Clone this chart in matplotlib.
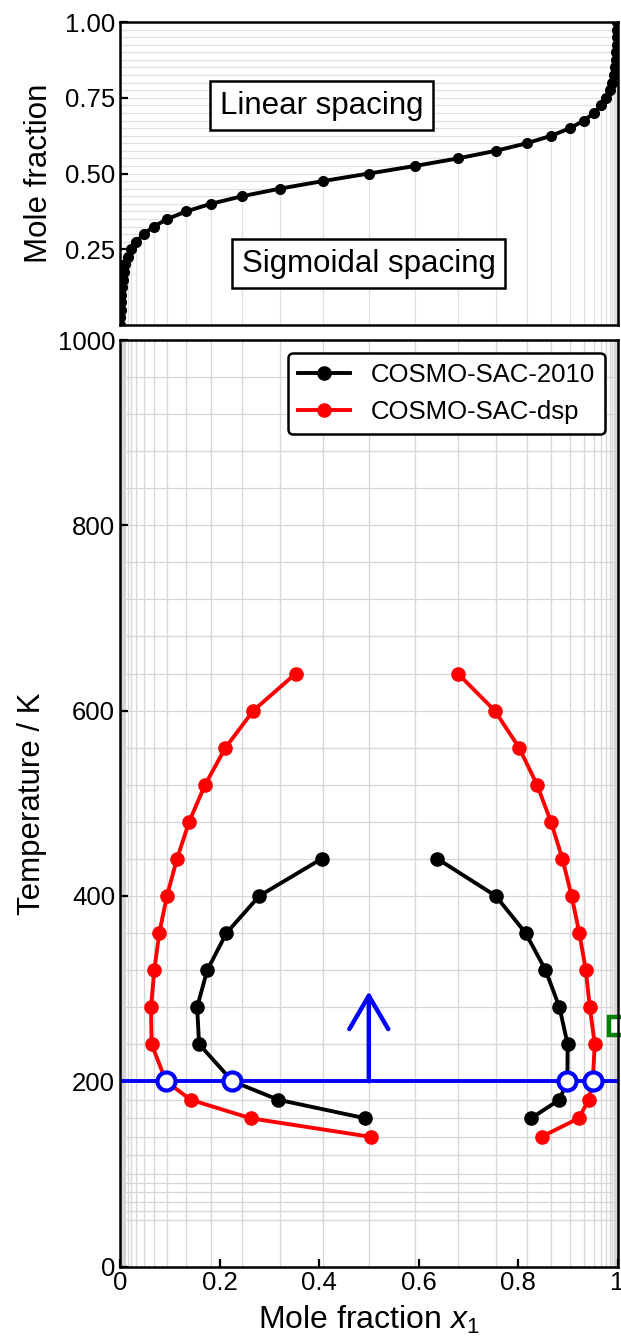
import matplotlib
matplotlib.use("Agg")
import matplotlib.pyplot as plt

plt.rcParams["font.family"] = ["Liberation Sans", "DejaVu Sans"]
plt.rcParams["mathtext.fontset"] = "custom"
plt.rcParams["mathtext.rm"] = "Liberation Sans"
plt.rcParams["mathtext.it"] = "Liberation Sans:italic"

# Sigmoidal grid (x) against the linear grid (y) for the top panel
sig_x = [0.0006, 0.0008, 0.0012, 0.0017, 0.0025, 0.0036, 0.0052, 0.0076,
         0.0110, 0.0159, 0.0230, 0.0331, 0.0474, 0.0676, 0.0953, 0.1330,
         0.1824, 0.2451, 0.3208, 0.4073, 0.5000, 0.5927, 0.6792, 0.7549,
         0.8176, 0.8670, 0.9047, 0.9324, 0.9526, 0.9669, 0.9770, 0.9841,
         0.9890, 0.9924, 0.9948, 0.9964, 0.9975, 0.9983, 0.9988, 0.9992,
         0.9994]
lin_y = [0.000, 0.025, 0.050, 0.075, 0.100, 0.125, 0.150, 0.175, 0.200,
         0.225, 0.250, 0.275, 0.300, 0.325, 0.350, 0.375, 0.400, 0.425,
         0.450, 0.475, 0.500, 0.525, 0.550, 0.575, 0.600, 0.625, 0.650,
         0.675, 0.700, 0.725, 0.750, 0.775, 0.800, 0.825, 0.850, 0.875,
         0.900, 0.925, 0.950, 0.975, 1.000]

# Temperature grid used for the horizontal lines of the bottom panel
temp_grid = [50, 60, 70, 80, 90, 100, 120, 140, 160, 180, 200, 240, 280,
             320, 360, 400, 440, 480, 520, 560, 600, 640, 680, 720, 760,
             800, 840, 880, 920, 960, 1000]

# COSMO-SAC-2010 (black), two branches
t_2010 = [160, 180, 200, 240, 280, 320, 360, 400, 440]
x_2010_left = [0.493, 0.318, 0.226, 0.159, 0.155, 0.1755, 0.214, 0.280, 0.405]
x_2010_right = [0.826, 0.883, 0.899, 0.8995, 0.883, 0.855, 0.815, 0.755, 0.638]

# COSMO-SAC-dsp (red), two branches
t_dsp = [140, 160, 180, 200, 240, 280, 320, 360, 400, 440, 480, 520, 560,
         600, 640]
x_dsp_left = [0.5036, 0.2625, 0.142, 0.0924, 0.0636, 0.0623, 0.069, 0.079,
              0.0944, 0.1145, 0.139, 0.171, 0.212, 0.268, 0.353]
x_dsp_right = [0.847, 0.9216, 0.942, 0.950, 0.954, 0.944, 0.936, 0.923,
               0.9075, 0.889, 0.866, 0.838, 0.802, 0.753, 0.679]

# Isotherm with the crossing points, arrow and the extra green point
t_iso = 200
x_cross = [0.0924, 0.2257, 0.8986, 0.950]
arrow_x = 0.5
arrow_top = 297
green_x = [1.0]
green_t = [260]

fig = plt.figure(figsize=(6.21, 13.36), dpi=100)
ax1 = fig.add_axes([0.1932, 0.7567, 0.8014, 0.2268])
ax2 = fig.add_axes([0.1932, 0.0520, 0.8014, 0.6935])

grid_c = "#d6d6d6"

# ---- top panel ----
ax1.hlines(lin_y, 0, sig_x, color="#e0e0e0", lw=0.9, zorder=1)
ax1.vlines(sig_x, 0, lin_y, color="#e0e0e0", lw=0.9, zorder=1)
ax1.plot(sig_x, lin_y, "-o", color="k", lw=2.8, ms=7, zorder=3)
ax1.text(0.405, 0.724, "Linear spacing", fontsize=22.5, ha="center",
         va="center", bbox=dict(boxstyle="square,pad=0.3", fc="white",
                                ec="black", lw=1.8))
ax1.text(0.500, 0.202, "Sigmoidal spacing", fontsize=22.5, ha="center",
         va="center", bbox=dict(boxstyle="square,pad=0.3", fc="white",
                                ec="black", lw=1.8))
ax1.set_xlim(0, 1)
ax1.set_ylim(0, 1)
ax1.set_yticks([0.25, 0.5, 0.75, 1.0])
ax1.set_yticklabels(["0.25", "0.50", "0.75", "1.00"])
ax1.set_xticks([])
ax1.set_ylabel("Mole fraction", fontsize=22.5, labelpad=8)

# ---- bottom panel ----
ax2.vlines(sig_x, 0, 1000, color=grid_c, lw=0.9, zorder=1)
ax2.hlines(temp_grid, 0, 1, color=grid_c, lw=0.9, zorder=1)

ax2.plot(x_2010_left, t_2010, "-o", color="k", lw=2.8, ms=9.5, zorder=3,
         label="COSMO-SAC-2010")
ax2.plot(x_2010_right, t_2010, "-o", color="k", lw=2.8, ms=9.5, zorder=3)
ax2.plot(x_dsp_left, t_dsp, "-o", color="r", lw=2.8, ms=9.5, zorder=3,
         label="COSMO-SAC-dsp")
ax2.plot(x_dsp_right, t_dsp, "-o", color="r", lw=2.8, ms=9.5, zorder=3)

ax2.axhline(t_iso, color="#0000ff", lw=2.8, zorder=4)
ax2.plot(x_cross, [t_iso] * len(x_cross), "o", mfc="white", mec="#0000ff",
         mew=3, ms=13, zorder=5)
ax2.annotate("", xy=(arrow_x, arrow_top), xytext=(arrow_x, t_iso),
             arrowprops=dict(arrowstyle="->,head_length=1.2,head_width=0.7",
                             color="#0000ff", lw=3.2, shrinkA=0, shrinkB=0,
                             mutation_scale=20), zorder=5)
ax2.plot(green_x, green_t, "s", mfc="white", mec="green", mew=3.2, ms=12.5,
         clip_on=False, zorder=6)

ax2.set_xlim(0, 1)
ax2.set_ylim(0, 1000)
ax2.set_xticks([0, 0.2, 0.4, 0.6, 0.8, 1.0])
ax2.set_xticklabels(["0", "0.2", "0.4", "0.6", "0.8", "1"])
ax2.set_yticks([0, 200, 400, 600, 800, 1000])
ax2.set_xlabel("Mole fraction $x_1$", fontsize=23, labelpad=6)
ax2.set_ylabel("Temperature / K", fontsize=22.5, labelpad=8)

leg = ax2.legend(loc="upper right", fontsize=18.5, fancybox=True,
                 framealpha=1, edgecolor="black")
leg.get_frame().set_linewidth(1.8)

for ax in [ax1, ax2]:
    ax.tick_params(direction="in", length=6, width=1.6, labelsize=18.5)
    for sp in ax.spines.values():
        sp.set_linewidth(1.8)
        sp.set_zorder(7)

fig.savefig("out.png", dpi=100)
